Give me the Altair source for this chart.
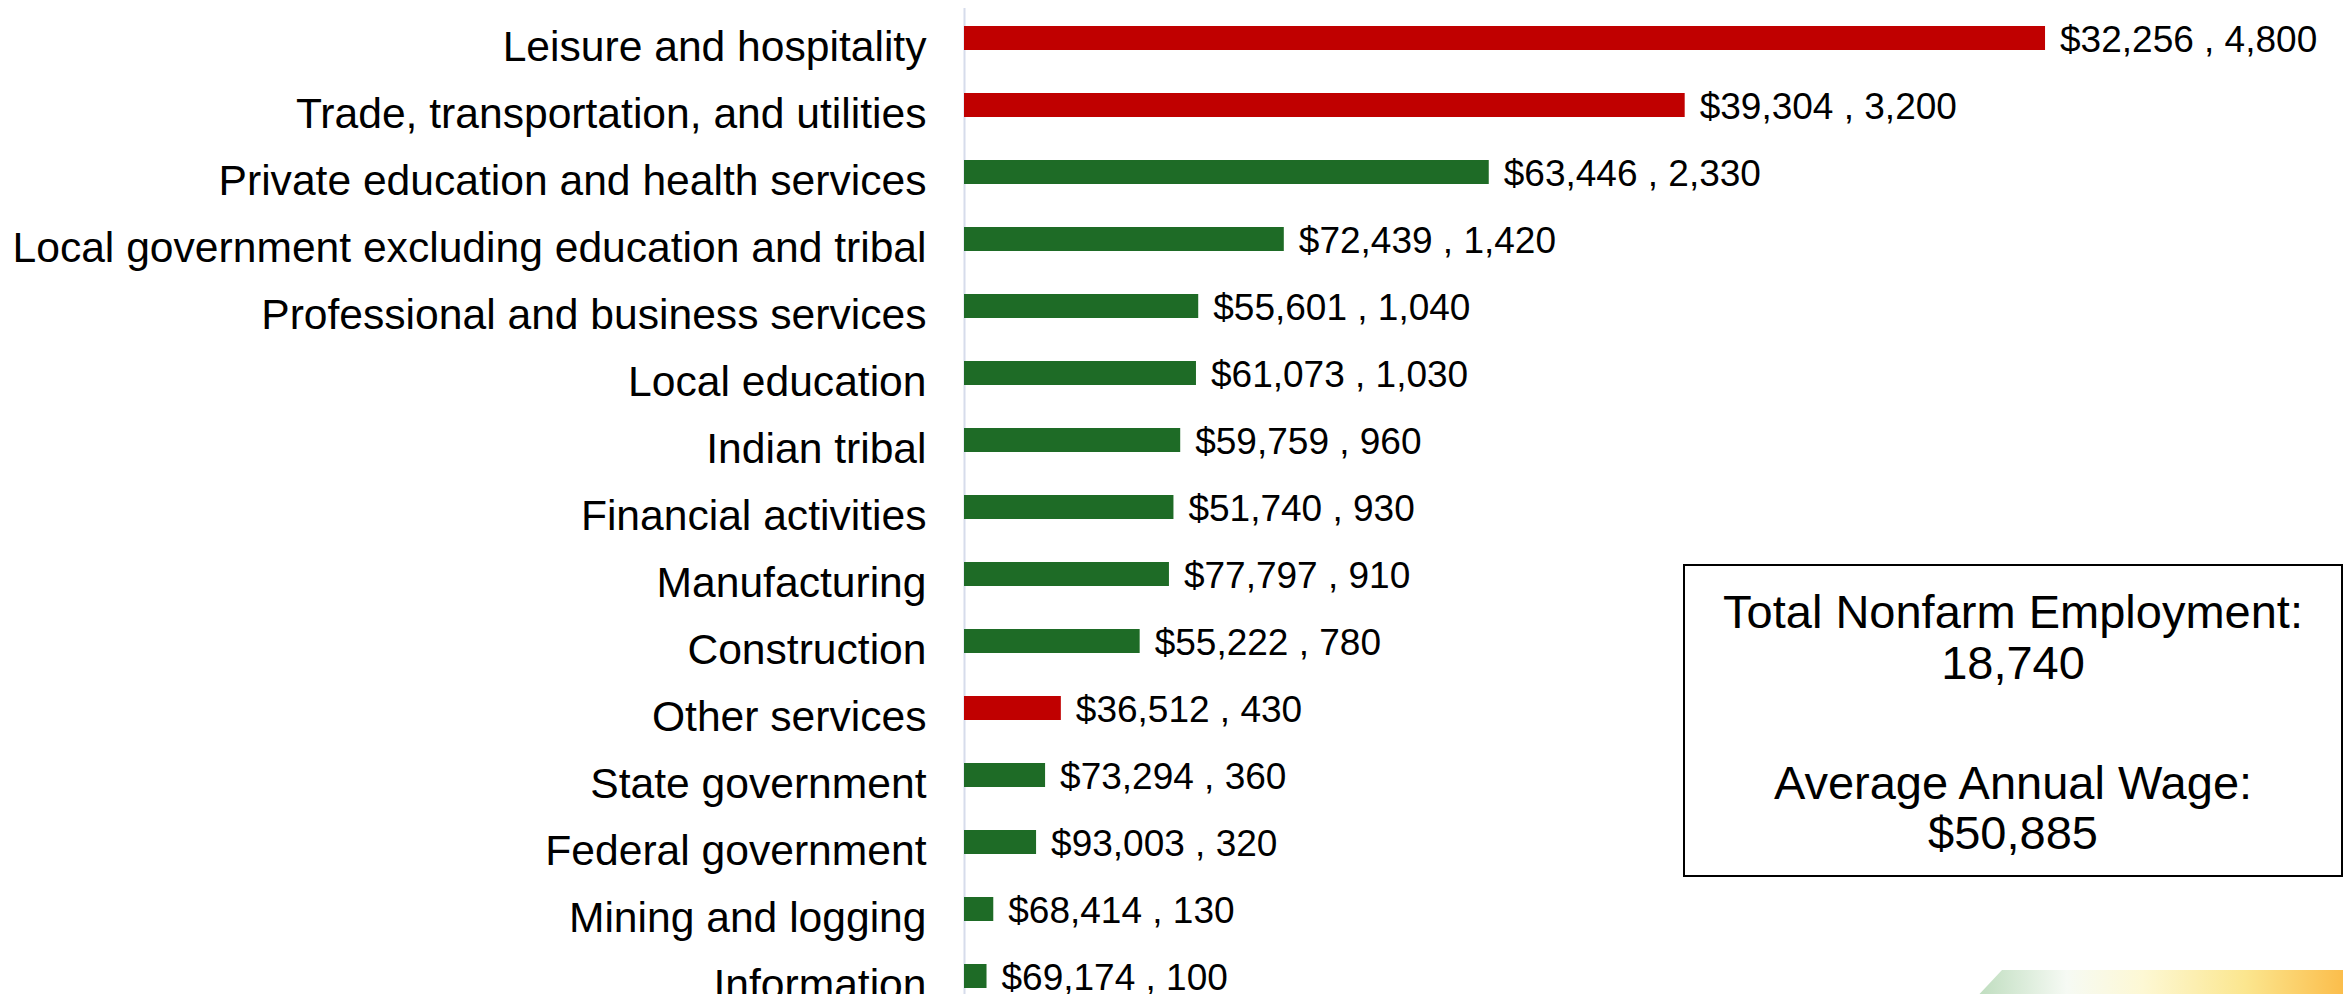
import altair as alt
import pandas as pd

industries = [
    "Leisure and hospitality",
    "Trade, transportation, and utilities",
    "Private education and health services",
    "Local government excluding education and tribal",
    "Professional and business services",
    "Local education",
    "Indian tribal",
    "Financial activities",
    "Manufacturing",
    "Construction",
    "Other services",
    "State government",
    "Federal government",
    "Mining and logging",
    "Information",
]
employment = [4800, 3200, 2330, 1420, 1040, 1030, 960, 930, 910, 780, 430, 360, 320, 130, 100]
wages = [32256, 39304, 63446, 72439, 55601, 61073, 59759, 51740, 77797, 55222, 36512, 73294, 93003, 68414, 69174]
average_wage = 50885
total_employment = sum(employment)

df = pd.DataFrame({"industry": industries, "employment": employment, "wage": wages})
df["label"] = [f"${w:,} , {e:,}" for w, e in zip(wages, employment)]
df["group"] = ["Below average" if w < average_wage else "Above average" for w in wages]

LABEL_FONT = "Liberation Sans"
BOX_FONT = "Liberation Sans"

y_enc = alt.Y(
    "industry:N",
    sort=industries,
    scale=alt.Scale(range=[-3.5, 1001.5], paddingInner=0, paddingOuter=0),
    axis=alt.Axis(
        title=None,
        labelFontSize=42.6,
        labelFont=LABEL_FONT,
        labelColor="#000000",
        labelPadding=38,
        labelLimit=1400,
        labelOffset=10,
        ticks=False,
        tickSize=0,
        domainColor="#D6DCEB",
        domainWidth=2,
        grid=False,
    ),
)
x_enc = alt.X("employment:Q", scale=alt.Scale(domain=[0, 6123], nice=False), axis=None)

base = alt.Chart(df)

bars = base.mark_bar(size=24).encode(
    x=x_enc,
    y=y_enc,
    color=alt.Color(
        "group:N",
        scale=alt.Scale(domain=["Below average", "Above average"], range=["#C00000", "#1E6B26"]),
        legend=None,
    ),
)

labels = base.mark_text(
    align="left", baseline="middle", dx=15, dy=3, fontSize=37, font=LABEL_FONT, color="#000000"
).encode(x=x_enc, y=y_enc, text="label:N")

one = pd.DataFrame({"k": [0]})

box = alt.Chart(one).mark_rect(fill="white", stroke="#000000", strokeWidth=2).encode(
    x=alt.value(720), x2=alt.value(1378), y=alt.value(557), y2=alt.value(868)
)

box_lines = ["Total Nonfarm Employment:", f"{total_employment:,}", "Average Annual Wage:", f"${average_wage:,}"]
box_y = [620, 671, 791, 841]
box_texts = [
    alt.Chart(one).mark_text(
        align="center", baseline="alphabetic", fontSize=47, font=BOX_FONT, color="#000000"
    ).encode(x=alt.value(1049), y=alt.value(yy), text=alt.value(t))
    for t, yy in zip(box_lines, box_y)
]

grad = alt.Gradient(
    gradient="linear",
    stops=[
        alt.GradientStop(color="#BBDBBB", offset=0),
        alt.GradientStop(color="#F6FAF4", offset=0.25),
        alt.GradientStop(color="#FDF8D4", offset=0.45),
        alt.GradientStop(color="#FBE68F", offset=0.72),
        alt.GradientStop(color="#FBBA46", offset=1),
    ],
    x1=0, x2=1, y1=0, y2=0,
)
deco = alt.Chart(one).mark_point(
    shape="M-0.95,0.08 L-0.8,-0.08 L0.945,-0.08 L0.945,0.08 Z",
    size=160000,
    filled=True,
    fill=grad,
    opacity=1,
    strokeWidth=0,
).encode(x=alt.value(1198), y=alt.value(978))

chart = alt.layer(deco, bars, labels, box, *box_texts).properties(
    width=1379,
    height=986,
    autosize=alt.AutoSizeParams(type="none"),
    padding={"left": 956, "top": 0, "right": 0, "bottom": 0},
).configure_view(strokeWidth=0)

chart.save("out.html", embed_options={"renderer": "svg", "actions": False})
